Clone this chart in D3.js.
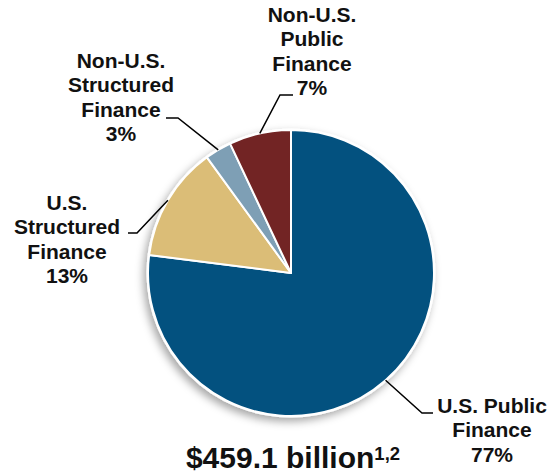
<!DOCTYPE html>
<html>
<head>
<meta charset="utf-8">
<script src="https://cdn.jsdelivr.net/npm/d3@7/dist/d3.min.js"></script>
<style>
  html, body { margin: 0; padding: 0; background: #ffffff; }
  svg { display: block; }
  text { font-family: "Liberation Sans", Arial, Helvetica, sans-serif; font-weight: bold; fill: #111111; }
</style>
</head>
<body>
<svg id="chart" width="549" height="476"></svg>
<script>
// Portfolio split, clockwise from 12 o'clock
const categories = ["U.S. Public Finance", "U.S. Structured Finance", "Non-U.S. Structured Finance", "Non-U.S. Public Finance"];
const shares = [77, 13, 3, 7];
const labelLines = [
  ["U.S. Public", "Finance"],
  ["U.S.", "Structured", "Finance"],
  ["Non-U.S.", "Structured", "Finance"],
  ["Non-U.S.", "Public", "Finance"]
];
const colors = ["#03517f", "#dbbd77", "#7e9fb5", "#722424"];
const totalLabel = "$459.1 billion";
const totalNote = "1,2";

// Layout
const cx = 291, cy = 273, r = 143;
const lineH = 24.3;
// elbow of each leader, end of its short horizontal tail, label centre x and first baseline
const callouts = [
  { elbow: [422, 413], tail: 433, tx: 492, ty: 413 },
  { elbow: [137, 233], tail: 128, tx: 67,  ty: 210 },
  { elbow: [178, 118], tail: 166, tx: 121, ty: 68 },
  { elbow: [280, 95],  tail: 293, tx: 312, ty: 22 }
];

const svg = d3.select("#chart");

const defs = svg.append("defs");
const shadow = defs.append("filter").attr("id", "pieShadow")
  .attr("x", "-20%").attr("y", "-20%").attr("width", "140%").attr("height", "140%");
shadow.append("feDropShadow")
  .attr("dx", -3).attr("dy", 4).attr("stdDeviation", 4)
  .attr("flood-color", "#000").attr("flood-opacity", 0.35);

const pie = d3.pie().sort(null).value(d => d).startAngle(0).endAngle(2 * Math.PI);
const arcs = pie(shares);
const arc = d3.arc().innerRadius(0).outerRadius(r);

const g = svg.append("g").attr("transform", `translate(${cx},${cy})`);

// backing disc carries the shadow and the white rim
g.append("circle").attr("r", r + 1.5).attr("fill", "#ffffff").attr("filter", "url(#pieShadow)");

g.selectAll("path.slice").data(arcs).join("path")
  .attr("class", "slice")
  .attr("d", arc)
  .attr("fill", (d, i) => colors[i])
  .attr("stroke", "#ffffff")
  .attr("stroke-width", 2)
  .attr("stroke-linejoin", "round");

// Leader lines
arcs.forEach((d, i) => {
  const mid = (d.startAngle + d.endAngle) / 2;
  const p0 = [cx + r * Math.sin(mid), cy - r * Math.cos(mid)];
  const c = callouts[i];
  svg.append("polyline")
    .attr("points", [p0, c.elbow, [c.tail, c.elbow[1]]].map(p => p.join(",")).join(" "))
    .attr("fill", "none")
    .attr("stroke", "#000")
    .attr("stroke-width", 1.5);
});

// Labels
labelLines.forEach((lines, i) => {
  const c = callouts[i];
  const t = svg.append("text")
    .attr("text-anchor", "middle")
    .attr("font-size", 21);
  lines.concat([shares[i] + "%"]).forEach((s, k) => {
    t.append("tspan").attr("x", c.tx).attr("y", c.ty + k * lineH).text(s);
  });
});

// Total
const total = svg.append("text")
  .attr("x", 293).attr("y", 468)
  .attr("text-anchor", "middle");
total.append("tspan").attr("font-size", 30).text(totalLabel);
total.append("tspan").attr("font-size", 18.5).attr("dy", -8).text(totalNote);
</script>
</body>
</html>
